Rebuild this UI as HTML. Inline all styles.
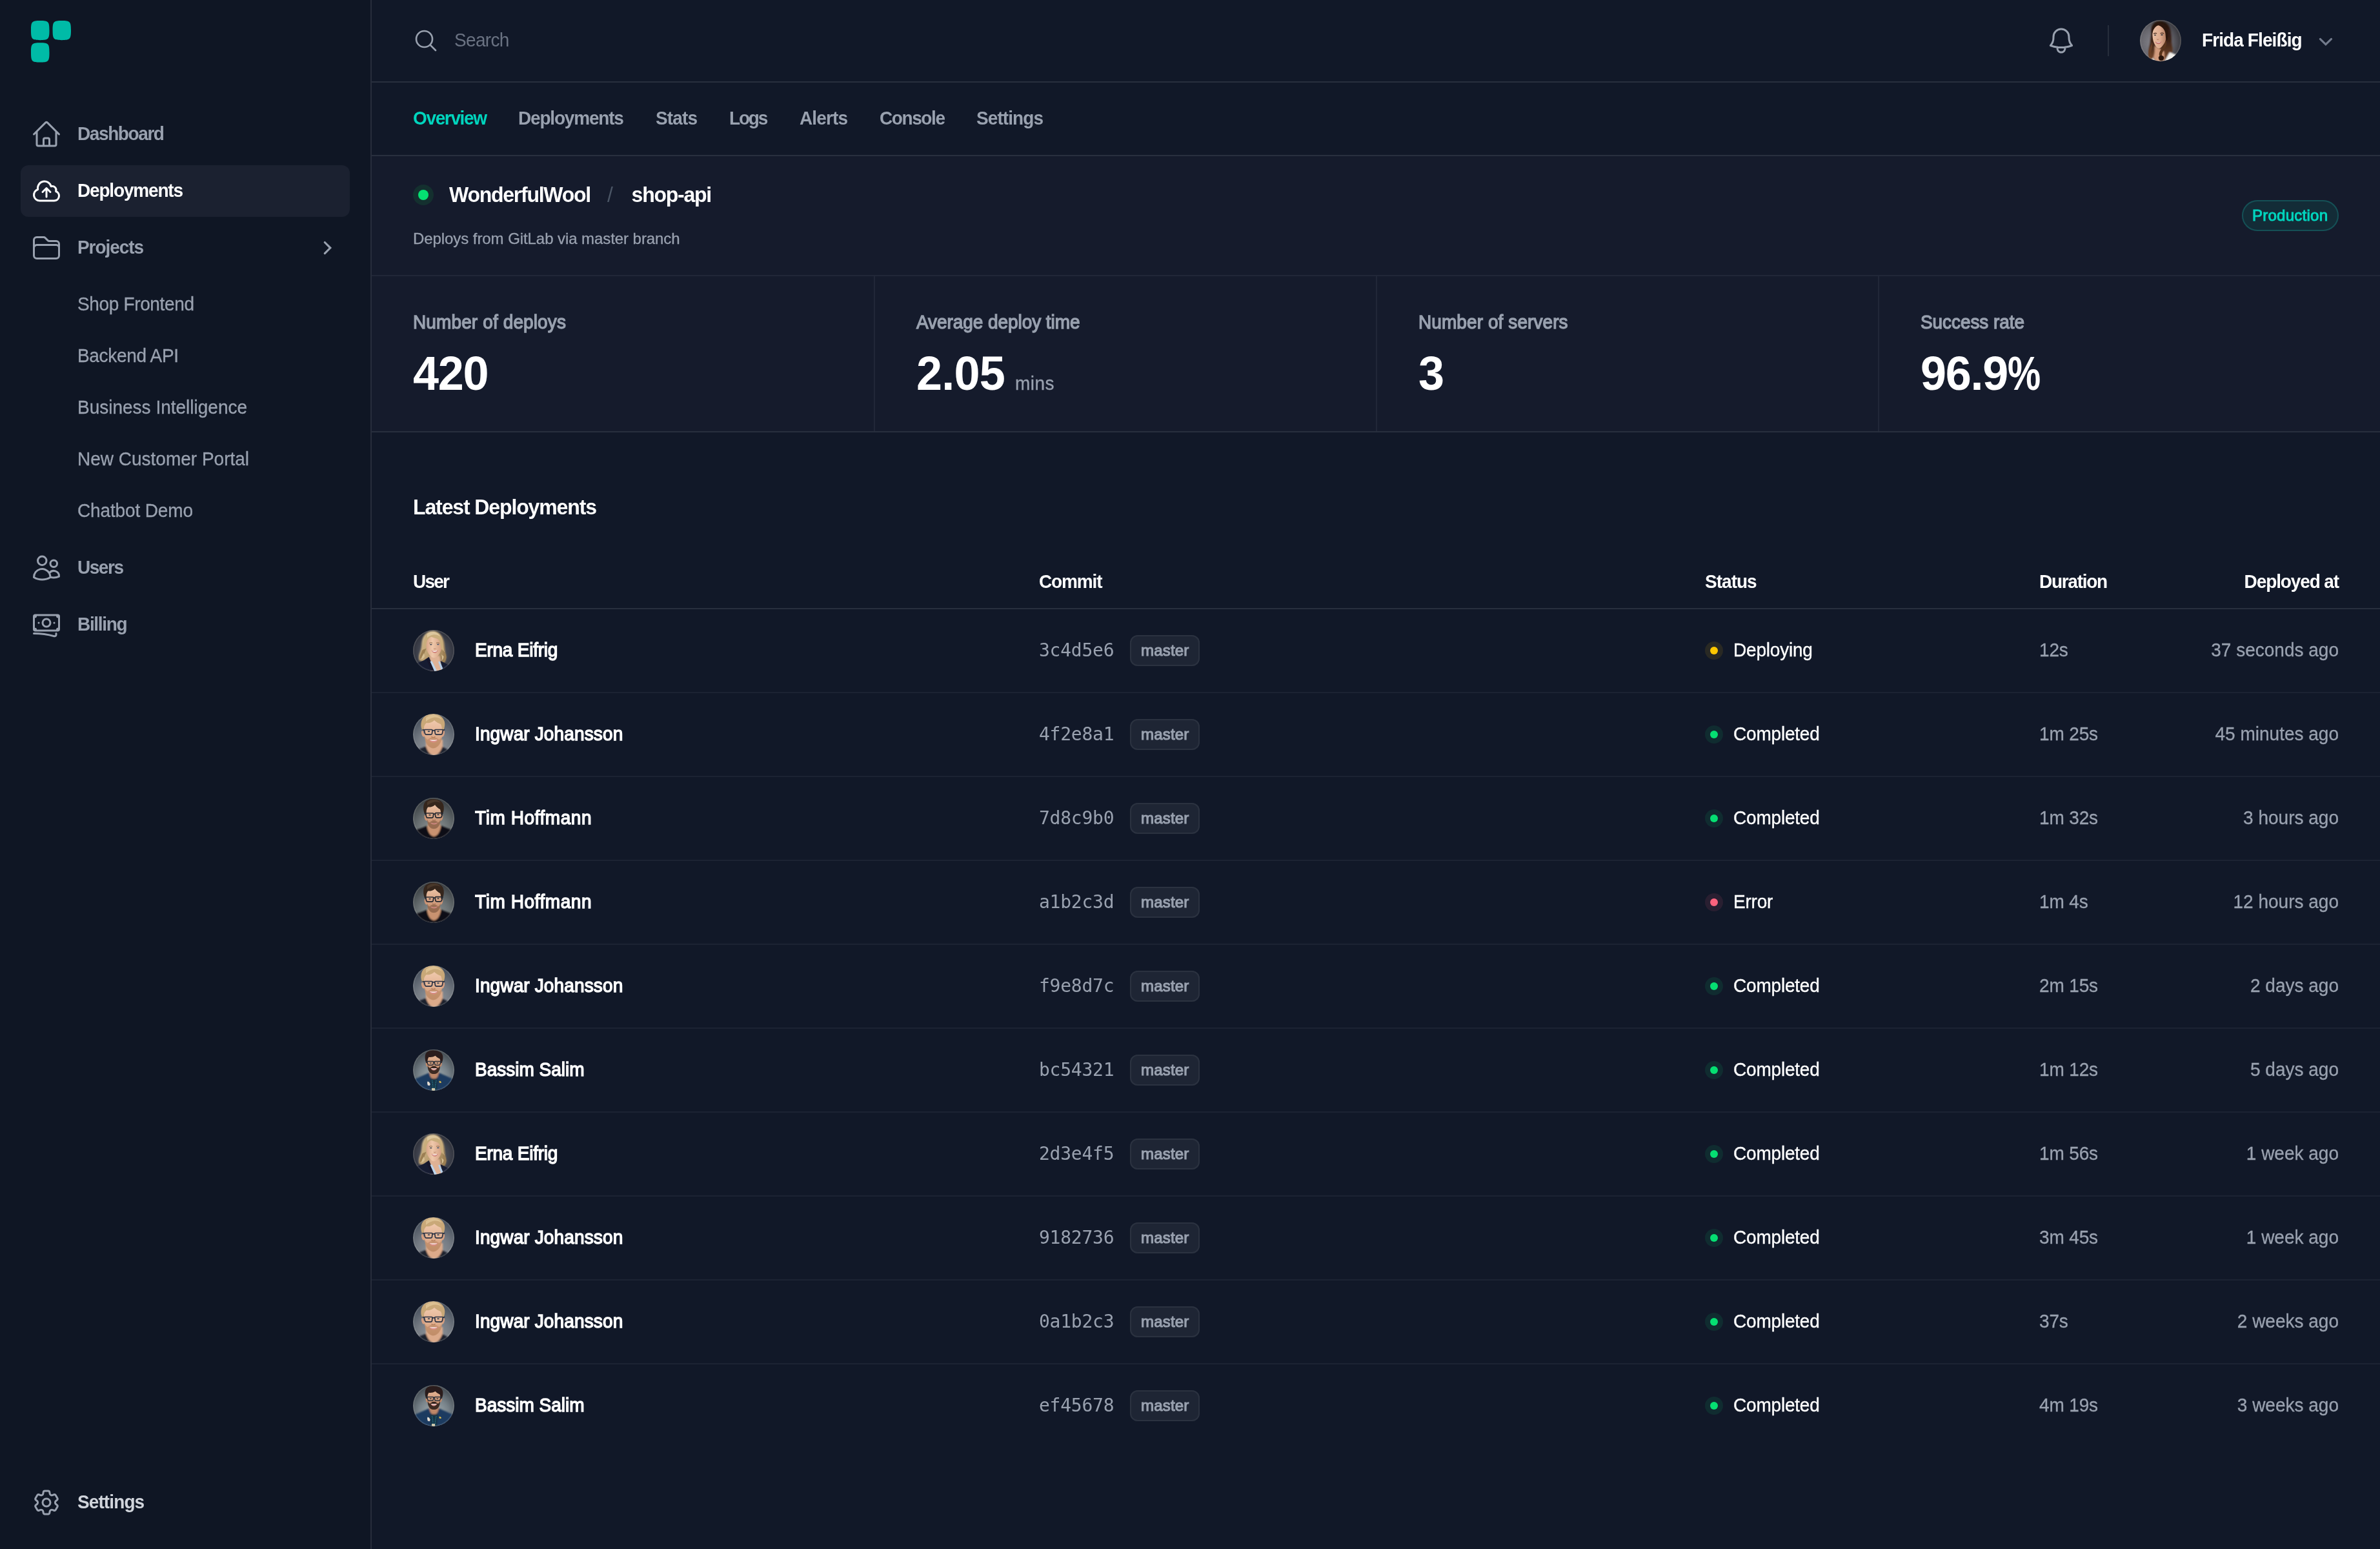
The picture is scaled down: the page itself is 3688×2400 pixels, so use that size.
<!DOCTYPE html>
<html lang="en">
<head>
<meta charset="utf-8">
<title>shop-api – Deployments</title>
<style>
*{box-sizing:border-box;margin:0;padding:0}
html,body{width:3688px;height:2400px;overflow:hidden;background:#111828}
body{font-family:"Liberation Sans",sans-serif;color:#fff;position:relative;-webkit-font-smoothing:antialiased}
svg{display:block}
.ico{fill:none;stroke:currentColor;stroke-width:1.5;stroke-linecap:round;stroke-linejoin:round}

/* ---------- sidebar ---------- */
#side{position:absolute;left:0;top:0;width:576px;height:2400px;background:#0f1624;border-right:2px solid #272d3c}
#logo{position:absolute;left:48px;top:31.6px}
.nav{position:absolute;left:32px;width:510px;height:80px;border-radius:12px;color:#99a1af;font-weight:700;font-size:28px;line-height:48px}
.nav svg.ico{position:absolute;left:16px;top:16px;width:48px;height:48px}
.nav span{position:absolute;left:88px;top:16px;white-space:nowrap;letter-spacing:-1.25px}
.nav.on{background:#1b2130;color:#fff}
.nav.set span{color:#d1d5dc}
.sub{position:absolute;left:120px;height:48px;line-height:48px;font-size:28px;color:#99a1af;white-space:nowrap;letter-spacing:-.15px;-webkit-text-stroke:.3px #99a1af}

/* ---------- main ---------- */
#main{position:absolute;left:576px;top:0;width:3112px;height:2400px;background:#111828}
#top{position:absolute;left:0;top:0;width:3112px;height:128px;border-bottom:2px solid #282f3e}
#tabs{position:absolute;left:0;top:128px;width:3112px;height:114px;border-bottom:2px solid #282f3e}
.tab{position:absolute;top:32px;line-height:48px;font-size:28px;font-weight:700;color:#99a1af;white-space:nowrap;letter-spacing:-1.2px}
#head{position:absolute;left:0;top:242px;width:3112px;height:184px;background:#151b2c}
#stats{position:absolute;left:0;top:426px;width:3112px;height:242px;background:#151b2c;border-top:2px solid #212738}
.stat{position:absolute;top:-2px;height:242px;width:778px;border-top:2px solid #212738}
.stat+.stat{border-left:2px solid #212738}
.stat .l{position:absolute;left:64px;top:48px;line-height:48px;font-size:28px;color:#99a1af;white-space:nowrap;letter-spacing:-.1px;-webkit-text-stroke:1.25px #99a1af}
.stat .v{position:absolute;left:64px;top:111px;line-height:80px;font-size:72px;font-weight:700;color:#fff;white-space:nowrap;letter-spacing:-1.3px}
#tbl{position:absolute;left:0;top:668px;width:3112px;border-top:2px solid #282f3e}
.row{position:absolute;left:0;width:3112px;height:130px;border-bottom:2px solid #1c2333}
.row>*{position:absolute;white-space:nowrap}

#q{position:absolute;left:128px;top:39px;line-height:48px;font-size:28px;color:#6a7282;letter-spacing:-.66px}
#vsep{position:absolute;left:2690px;top:39px;width:2px;height:48px;background:#272e3c}
.av{position:absolute;width:64px;height:64px;border-radius:50%;overflow:hidden;background:#555}
#me{left:2740px;top:31px}
#uname{position:absolute;left:2836px;top:39px;line-height:48px;font-size:28px;font-weight:700;color:#fff;white-space:nowrap;letter-spacing:-.9px}
#hdot{position:absolute;left:64px;top:44px;width:32px;height:32px;border-radius:50%;background:#14302f}
#hdot i{position:absolute;left:8px;top:8px;width:16px;height:16px;border-radius:50%;background:#05df72}
#ttl{position:absolute;left:120px;top:32px;line-height:56px;font-size:32px;font-weight:700;color:#fff;white-space:nowrap;letter-spacing:-1.25px}
#ttl .sl{color:#4a5565;font-weight:400;margin:0 30px 0 26px}
#sub{position:absolute;left:64px;top:104px;line-height:48px;font-size:24px;color:#99a1af;white-space:nowrap;letter-spacing:-.07px;-webkit-text-stroke:.3px #99a1af}
#prod{position:absolute;left:2898px;top:68px;width:150px;height:48px;border-radius:24px;background:#132c37;box-shadow:inset 0 0 0 2px #155056;color:#00d5be;font-size:24px;line-height:48px;text-align:center;letter-spacing:.25px;-webkit-text-stroke:1px #00d5be}
.stat .u{font-size:28px;font-weight:400;color:#99a1af;margin-left:16px;letter-spacing:.5px;-webkit-text-stroke:.3px #99a1af}

#lt{position:absolute;left:64px;top:88px;line-height:56px;font-size:32px;font-weight:700;color:#fff;white-space:nowrap;letter-spacing:-1.12px}
#thead{position:absolute;left:0;top:192px;width:3112px;height:82px;border-bottom:2px solid #282f3e}
.th{position:absolute;top:16px;line-height:48px;font-size:28px;font-weight:700;color:#fff;white-space:nowrap;letter-spacing:-1.15px}
.row.last{border-bottom:0}
.row .av{left:64px;top:32px}
.nm{left:160px;top:40px;line-height:48px;font-size:28px;color:#fff;letter-spacing:.1px;-webkit-text-stroke:1.3px #fff}
.cm{left:1034px;top:40px;line-height:48px;font-size:28px;color:#99a1af;font-family:"DejaVu Sans Mono","Liberation Mono",monospace;letter-spacing:-.25px}
.br{left:1175px;top:40px;width:108px;height:48px;border-radius:12px;background:#1e2534;box-shadow:inset 0 0 0 2px #2b3240;color:#99a1af;font-size:24px;line-height:48px;text-align:center;letter-spacing:.2px;-webkit-text-stroke:1.1px #99a1af}
.dt{left:2066px;top:50px;width:28px;height:28px;border-radius:50%}
.dt i{position:absolute;left:8px;top:8px;width:12px;height:12px;border-radius:50%}
.dt.g{background:#102c30}.dt.g i{background:#05df72}
.dt.y{background:#292924}.dt.y i{background:#fdc700}
.dt.r{background:#291f31}.dt.r i{background:#ff637e}
.st{left:2110px;top:40px;line-height:48px;font-size:28px;color:#fff;letter-spacing:-.2px;-webkit-text-stroke:.35px #fff}
.du{left:2584px;top:40px;line-height:48px;font-size:28px;color:#99a1af;letter-spacing:-.15px;-webkit-text-stroke:.3px #99a1af}
.ago{right:64px;top:40px;line-height:48px;font-size:28px;color:#99a1af;letter-spacing:0;-webkit-text-stroke:.3px #99a1af}
.stat .pc{display:inline-block;transform:scaleX(.8);transform-origin:0 50%;margin-left:0}

/* target typeface is ~5% taller than Liberation at equal width: stretch vertically about the baseline */
.nav span,.sub,.tab,#q,#uname,.stat .l,.th,.nm,.st,.du,.ago{transform:scaleY(1.05);transform-origin:0 33.7px}
#ttl,#lt{transform:scaleY(1.05);transform-origin:0 39.1px}
#sub,#prod span,.br span{transform:translateY(-.4px)}
.cm,#sub,#prod span,.br span,.stat .u,#ttl .sl{will-change:transform}
#prod span,.br span{display:inline-block}
.stat .v{transform:scaleY(1.04);transform-origin:0 64.9px}
/* fallback: if rendered in a 1844x1200 @2x viewport, halve the layout so device pixels are identical */
@media (max-width:2000px){html{zoom:.5}}
</style>
</head>
<body>
<svg width="0" height="0" style="position:absolute"><defs><clipPath id="cc"><circle cx="32" cy="32" r="32"/></clipPath><filter id="b1" x="-20%" y="-20%" width="140%" height="140%"><feGaussianBlur stdDeviation="0.8"/></filter><filter id="b2" x="-20%" y="-20%" width="140%" height="140%"><feGaussianBlur stdDeviation="0.42"/></filter><filter id="b4" x="-10%" y="-30%" width="120%" height="160%"><feGaussianBlur stdDeviation="0.25"/></filter><filter id="b3" x="-30%" y="-30%" width="160%" height="160%"><feGaussianBlur stdDeviation="2"/></filter><radialGradient id="gF" cx=".38" cy=".55" r=".62"><stop offset="0" stop-color="#8b8a91"/><stop offset=".6" stop-color="#67666d"/><stop offset="1" stop-color="#37373d"/></radialGradient><radialGradient id="gE" cx=".5" cy=".55" r=".6"><stop offset="0" stop-color="#565b69"/><stop offset=".6" stop-color="#41444f"/><stop offset="1" stop-color="#272932"/></radialGradient><radialGradient id="gI" cx=".5" cy=".85" r=".85"><stop offset="0" stop-color="#969ba1"/><stop offset=".5" stop-color="#757b83"/><stop offset="1" stop-color="#414a57"/></radialGradient><radialGradient id="gT" cx=".5" cy=".8" r=".8"><stop offset="0" stop-color="#939a9b"/><stop offset=".5" stop-color="#6a7173"/><stop offset="1" stop-color="#34393d"/></radialGradient><radialGradient id="gB" cx=".5" cy=".68" r=".72"><stop offset="0" stop-color="#a9b3b5"/><stop offset=".5" stop-color="#78838a"/><stop offset="1" stop-color="#363d44"/></radialGradient><linearGradient id="sk1" x1="0" y1="0" x2="1" y2="0"><stop offset="0" stop-color="#e9bea3"/><stop offset=".55" stop-color="#dca98d"/><stop offset="1" stop-color="#a9745a"/></linearGradient><linearGradient id="sk2" x1="0" y1="0" x2="1" y2="0"><stop offset="0" stop-color="#d9a688"/><stop offset=".4" stop-color="#efc8ab"/><stop offset="1" stop-color="#d49f82"/></linearGradient><linearGradient id="sk3" x1="0" y1="0" x2="0" y2="1"><stop offset="0" stop-color="#f0cbb0"/><stop offset=".55" stop-color="#e2b191"/><stop offset="1" stop-color="#c98f6c"/></linearGradient><linearGradient id="sk4" x1="0" y1="0" x2="0" y2="1"><stop offset="0" stop-color="#ecc3a6"/><stop offset=".5" stop-color="#d9a585"/><stop offset="1" stop-color="#b07a5c"/></linearGradient><linearGradient id="sk5" x1="0" y1="0" x2="0" y2="1"><stop offset="0" stop-color="#e6b797"/><stop offset=".5" stop-color="#d19c7c"/><stop offset="1" stop-color="#a87053"/></linearGradient><linearGradient id="hF" x1="0" y1="0" x2="0" y2="1"><stop offset="0" stop-color="#24130d"/><stop offset=".45" stop-color="#3a2117"/><stop offset="1" stop-color="#7a4a2c"/></linearGradient><linearGradient id="hE" x1="0" y1="0" x2="1" y2="1"><stop offset="0" stop-color="#d6c29a"/><stop offset=".5" stop-color="#bfa375"/><stop offset="1" stop-color="#8f744b"/></linearGradient></defs></svg>
<div id="side">
  <svg id="logo" width="62" height="65" viewBox="0 0 62 65"><path fill="#00bba7" d="M0 15.1C0 1.51 1.42 0 14.25 0S28.5 1.51 28.5 15.1S27.08 30.2 14.25 30.2S0 28.69 0 15.1ZM33.6 15.1C33.6 1.51 35.02 0 47.8 0S62 1.51 62 15.1S60.58 30.2 47.8 30.2S33.6 28.69 33.6 15.1ZM0 49.4C0 35.81 1.42 34.3 14.25 34.3S28.5 35.81 28.5 49.4S27.08 64.5 14.25 64.5S0 62.99 0 49.4Z"/></svg>
  <div class="nav" style="top:168px"><svg class="ico" viewBox="0 0 24 24"><path d="m2.25 12 8.954-8.955c.44-.439 1.152-.439 1.591 0L21.75 12M4.5 9.75v10.125c0 .621.504 1.125 1.125 1.125H9.75v-4.875c0-.621.504-1.125 1.125-1.125h2.25c.621 0 1.125.504 1.125 1.125V21h4.125c.621 0 1.125-.504 1.125-1.125V9.75M8.25 21h8.25"/></svg><span style="letter-spacing:-1.41px">Dashboard</span></div>
  <div class="nav on" style="top:256px"><svg class="ico" viewBox="0 0 24 24"><path d="M12 16.5V9.75m0 0 3 3m-3-3-3 3M6.75 19.5a4.5 4.5 0 0 1-1.41-8.775 5.25 5.25 0 0 1 10.233-2.33 3 3 0 0 1 3.758 3.848A3.752 3.752 0 0 1 18 19.5H6.75Z"/></svg><span style="letter-spacing:-1.18px">Deployments</span></div>
  <div class="nav" style="top:344px"><svg class="ico" viewBox="0 0 24 24"><path d="M2.25 12.75V12A2.25 2.25 0 0 1 4.5 9.75h15A2.25 2.25 0 0 1 21.75 12v.75m-8.69-6.44-2.12-2.12a1.5 1.5 0 0 0-1.061-.44H4.5A2.25 2.25 0 0 0 2.25 6v12a2.25 2.25 0 0 0 2.25 2.25h15A2.25 2.25 0 0 0 21.75 18V9a2.25 2.25 0 0 0-2.25-2.25h-5.379a1.5 1.5 0 0 1-1.06-.44Z"/></svg><span style="letter-spacing:-1.07px">Projects</span><svg class="chev" width="40" height="40" viewBox="0 0 20 20" style="position:absolute;left:454px;top:20px"><path d="M8.65 5.75 12.93 10.03 8.65 14.3" fill="none" stroke="#99a1af" stroke-width="1.55" stroke-linecap="round" stroke-linejoin="miter"/></svg></div>
  <div class="sub" style="top:448px;letter-spacing:-.35px">Shop Frontend</div>
  <div class="sub" style="top:528px;letter-spacing:-.33px">Backend API</div>
  <div class="sub" style="top:608px;letter-spacing:0px">Business Intelligence</div>
  <div class="sub" style="top:688px;letter-spacing:0px">New Customer Portal</div>
  <div class="sub" style="top:768px;letter-spacing:-.14px">Chatbot Demo</div>
  <div class="nav" style="top:840px"><svg class="ico" viewBox="0 0 24 24"><path d="M15 19.128a9.38 9.38 0 0 0 2.625.372 9.337 9.337 0 0 0 4.121-.952 4.125 4.125 0 0 0-7.533-2.493M15 19.128v-.003c0-1.113-.285-2.16-.786-3.07M15 19.128v.106A12.318 12.318 0 0 1 8.624 21c-2.331 0-4.512-.645-6.374-1.766l-.001-.109a6.375 6.375 0 0 1 11.964-3.07M12 6.375a3.375 3.375 0 1 1-6.75 0 3.375 3.375 0 0 1 6.75 0Zm8.25 2.25a2.625 2.625 0 1 1-5.25 0 2.625 2.625 0 0 1 5.25 0Z"/></svg><span style="letter-spacing:-1.46px">Users</span></div>
  <div class="nav" style="top:928px"><svg class="ico" viewBox="0 0 24 24"><path d="M2.25 18.75a60.07 60.07 0 0 1 15.797 2.101c.727.198 1.453-.342 1.453-1.096V18.75M3.75 4.5v.75A.75.75 0 0 1 3 6h-.75m0 0v-.375c0-.621.504-1.125 1.125-1.125H20.25M2.25 6v9m18-10.5v.75c0 .414.336.75.75.75h.75m-1.5-1.5h.375c.621 0 1.125.504 1.125 1.125v9.75c0 .621-.504 1.125-1.125 1.125h-.375m1.5-1.5H21a.75.75 0 0 0-.75.75v.75m0 0H3.75m0 0h-.375a1.125 1.125 0 0 1-1.125-1.125V15m1.5 1.5v-.75A.75.75 0 0 0 3 15h-.75M15 10.5a3 3 0 1 1-6 0 3 3 0 0 1 6 0Zm3 0h.008v.008H18V10.5Zm-12 0h.008v.008H6V10.5Z"/></svg><span style="letter-spacing:-1.33px">Billing</span></div>
  <div class="nav set" style="top:2288px"><svg class="ico" viewBox="0 0 24 24"><path d="M9.594 3.94c.09-.542.56-.94 1.11-.94h2.593c.55 0 1.02.398 1.11.94l.213 1.281c.063.374.313.686.645.87.074.04.147.083.22.127.325.196.72.257 1.075.124l1.217-.456a1.125 1.125 0 0 1 1.37.49l1.296 2.247a1.125 1.125 0 0 1-.26 1.431l-1.003.827c-.293.241-.438.613-.43.992a7.723 7.723 0 0 1 0 .255c-.008.378.137.75.43.991l1.004.827c.424.35.534.955.26 1.43l-1.298 2.247a1.125 1.125 0 0 1-1.369.491l-1.217-.456c-.355-.133-.75-.072-1.076.124a6.47 6.47 0 0 1-.22.128c-.331.183-.581.495-.644.869l-.213 1.281c-.09.543-.56.94-1.11.94h-2.594c-.55 0-1.019-.398-1.11-.94l-.213-1.281c-.062-.374-.312-.686-.644-.87a6.52 6.52 0 0 1-.22-.127c-.325-.196-.72-.257-1.076-.124l-1.217.456a1.125 1.125 0 0 1-1.369-.49l-1.297-2.247a1.125 1.125 0 0 1 .26-1.431l1.004-.827c.292-.24.437-.613.43-.991a6.932 6.932 0 0 1 0-.255c.007-.38-.138-.751-.43-.992l-1.004-.827a1.125 1.125 0 0 1-.26-1.43l1.297-2.247a1.125 1.125 0 0 1 1.37-.491l1.216.456c.356.133.751.072 1.076-.124.072-.044.146-.086.22-.128.332-.183.582-.495.644-.869l.214-1.28Z"/><path d="M15 12a3 3 0 1 1-6 0 3 3 0 0 1 6 0Z"/></svg><span style="letter-spacing:-0.90px">Settings</span></div>
</div>
<div id="main">
  <div id="top">
    <svg class="ico" viewBox="0 0 24 24" style="position:absolute;left:64px;top:43px;width:40px;height:40px;color:#99a1af;stroke-width:1.6"><path d="m21 21-5.197-5.197m0 0A7.5 7.5 0 1 0 5.196 5.196a7.5 7.5 0 0 0 10.607 10.607Z"/></svg>
    <div id="q">Search</div>
    <svg class="ico" viewBox="0 0 24 24" style="position:absolute;left:2594px;top:39px;width:48px;height:48px;color:#99a1af"><path d="M14.857 17.082a23.848 23.848 0 0 0 5.454-1.31A8.967 8.967 0 0 1 18 9.75V9A6 6 0 0 0 6 9v.75a8.967 8.967 0 0 1-2.312 6.022c1.733.64 3.56 1.085 5.455 1.31m5.714 0a24.255 24.255 0 0 1-5.714 0m5.714 0a3 3 0 1 1-5.714 0"/></svg>
    <div id="vsep"></div>
    <div id="me" class="av"><svg width="64" height="64" viewBox="0 0 64 64"><g clip-path="url(#cc)"><rect width="64" height="64" fill="url(#gF)"/><g filter="url(#b1)"><path d="M31 1.5C22 1.5 17 8 17.5 17c.3 6-1 10-1.5 16-.5 7-3 11-2.500 16 .4 4 1 9 3 15H44c3-4 6-9 6.500-16 .5-6-1.500-9-1.500-15 0-5-.5-10-1.200-15C46.500 8 41 1.500 31 1.500Z" fill="url(#hF)"/><path d="M46 50 56 53.500 50 66H37Z" fill="#f1efec"/><path d="M20 58l5 8h-8z" fill="#e9e6e2"/><path d="M23 40c0 6 0 12-2 18l6 8h9c2-5 2-11 1.500-17Z" fill="#d29b7d"/></g><g filter="url(#b2)"><path d="M19.300 20.500c0-7.500 4.700-12.500 11.200-12.500s11.500 5 11.500 12.500c0 5-1 10-3.500 14.500-2.200 4-6 9-9 9s-6-4.300-7.700-8.500C20 31.500 19.300 25.500 19.300 20.500Z" fill="url(#sk1)"/><path d="M28 4.500c-5 1-10 6-10 14l.800 5c1-7 3.200-12.500 9.200-15.500 5.500 1.500 10.500 6 11.500 13 .500 4 .500 8 1 12l2.500-3c1-5 1-12-.500-17C40.500 7.500 34 3.500 28 4.500Z" fill="#2a160e"/><path d="M40 30c2 6 1 11-2 15s-5 9-3 14l-4-1c-3-6 0-10 3-14s5-8 6-14Z" fill="#5a341f"/><path d="M15 44c2-3 3-6 4-10 .500 5 0 9-1.500 13s-1 8 1 12l-4 1c-2-6-1.500-12 .500-16Z" fill="#6b4027"/><path d="M30 56c2-1.500 5-1.500 6.500.5s.5 5.500-2 6.500-5-.5-5.500-3 .0-3 1-4Z" fill="#2a160e"/></g><g filter="url(#b2)"><path d="M21 21.300c1.500-1 3.500-1.200 5.200-.5M31.500 20.800c1.800-.9 4-.8 5.700.3" stroke="#4a2e20" stroke-width="1.100" fill="none"/><ellipse cx="23.500" cy="23.300" rx="1.700" ry=".9" fill="#3d3a3c"/><ellipse cx="34" cy="23" rx="1.800" ry=".9" fill="#3d3a3c"/><path d="M26 29.500c.8 1 2.400 1.100 3.300.2" stroke="#a86f55" stroke-width="1" fill="none"/><path d="M23.800 33.600c2.800 1.200 6.800 1 9.700-.7-.8 3-2.800 4.300-5.300 4.300s-3.800-1.500-4.400-3.600Z" fill="#c26c66"/><path d="M24.800 34c2.500.8 5.500.6 7.700-.5-.7 1.300-2.200 1.900-4 1.900s-3.200-.5-3.700-1.400Z" fill="#f4ebe6"/></g><circle cx="32" cy="32" r="31.1" fill="none" stroke="#fff" stroke-opacity=".13" stroke-width="1.6"/></g></svg></div>
    <div id="uname">Frida Fleißig</div>
    <svg width="40" height="40" viewBox="0 0 20 20" style="position:absolute;left:3008px;top:43px"><path d="M5.63 8.73 9.95 12.9 14.28 8.73" fill="none" stroke="#737b8c" stroke-width="1.55" stroke-linecap="round" stroke-linejoin="miter"/></svg>
  </div>
  <div id="tabs">
    <div class="tab" style="left:64px;color:#00d5be;letter-spacing:-1.36px">Overview</div>
    <div class="tab" style="left:227px;letter-spacing:-1.19px">Deployments</div>
    <div class="tab" style="left:440px;letter-spacing:-0.87px">Stats</div>
    <div class="tab" style="left:554px;letter-spacing:-2.2px">Logs</div>
    <div class="tab" style="left:663px;letter-spacing:-0.87px">Alerts</div>
    <div class="tab" style="left:787px;letter-spacing:-1.41px">Console</div>
    <div class="tab" style="left:937px;letter-spacing:-0.92px">Settings</div>
  </div>
  <div id="head">
    <div id="hdot"><i></i></div>
    <div id="ttl"><span>WonderfulWool</span><span class="sl">/</span><span>shop-api</span></div>
    <div id="sub">Deploys from GitLab via master branch</div>
    <div id="prod"><span>Production</span></div>
  </div>
  <div id="stats">
    <div class="stat" style="left:0"><div class="l" style="letter-spacing:0.12px">Number of deploys</div><div class="v">420</div></div>
    <div class="stat" style="left:778px"><div class="l" style="letter-spacing:-0.07px">Average deploy time</div><div class="v" style="letter-spacing:-.8px">2.05<span class="u">mins</span></div></div>
    <div class="stat" style="left:1556px"><div class="l" style="letter-spacing:0.08px">Number of servers</div><div class="v">3</div></div>
    <div class="stat" style="left:2334px"><div class="l" style="letter-spacing:-0.08px">Success rate</div><div class="v">96.9<span class="pc">%</span></div></div>
  </div>
  <div id="tbl">
    <h2 id="lt">Latest Deployments</h2>
    <div id="thead"><div class="th" style="left:64px;letter-spacing:-1.76px">User</div><div class="th" style="left:1034px;letter-spacing:-1.13px">Commit</div><div class="th" style="left:2066px;letter-spacing:-0.98px">Status</div><div class="th" style="left:2584px;letter-spacing:-1.29px">Duration</div><div class="th" style="right:64px;letter-spacing:-1.12px">Deployed at</div></div>
    <div class="row" style="top:274px"><div class="av"><svg width="64" height="64" viewBox="0 0 64 64"><g clip-path="url(#cc)"><rect width="64" height="64" fill="url(#gE)"/><g filter="url(#b1)"><path d="M30 1.500c-9 .500-15.500 8-16.500 18-.500 6-1 10-2.500 14s-3 9-1.500 13.500l6 2.500 10-7 16 1 4 9 4-2.500c2-4 2.500-8 1.500-12s-1.500-8-2-13C48 11 41 1 30 1.500Z" fill="url(#hE)"/><path d="M26 40h15l3 12 2 14H24Z" fill="#dfb295"/></g><g filter="url(#b2)"><path d="M20.500 24c0-8.500 4.800-14 12-14S44.500 15.500 44.500 24c0 5.500-1.500 10-4 13.500-2.200 3-5.200 5.700-8 5.700s-5.800-2.700-8-6C22 33.500 20.500 29 20.500 24Z" fill="url(#sk2)"/><path d="M31 3c-7 0-13 6-14 15-.500 5-1 9-3 13 3-1 5-4 6-8 .800-5 3-10 8-12.500 4 2 9 2 12 5 2 3 2.500 7 3 11 1 4 3 7 6 8-2-5-2-9-2.500-14C45.500 9 39 3 31 3Z" fill="#c9ad7c"/><path d="M22 6c3-2.500 7-3.500 10-3 4 .500 8 3 10 7-4-2.500-8-3-11-2.500S25 9.500 22 12Z" fill="#dcc79e"/><path d="M14 32c-1.500 5-4 8-3.500 13 2.500-1 5.500-3.500 6.500-7s2.500-6 3.500-9.500C18 30 15.500 30 14 32ZM45.500 30c.500 5 2 8 2 12s-2.500 7-1.500 10c3-2 5.500-6 5.500-10s-3-8-6-12Z" fill="#9c7f52"/><path d="M17 36c-2 3-4 6-4 9.500 2-.500 4-2 5-4.500ZM44 38c1 3 1.500 6 .500 9 2-1 3-3.500 3-6Z" fill="#d6bf92"/><path d="M-2 58c3-4 7-6.500 12-8l7-3 7.500-5L36.500 66H-2Z" fill="#191c31"/><path d="M42.500 48l5.500 2.500 7 4 6 5.500v6H47Z" fill="#191c31"/><path d="M26.300 48.700 29.400 48.200 37.600 64.500 33.800 66Z" fill="#bcd5ec"/><path d="M39 49l2.600-.300L46.300 59.500 43.600 62Z" fill="#b4cde6"/><path d="M24.500 42 26.300 48.700 34 66H30L21 46Z" fill="#14172a"/></g><g filter="url(#b2)"><path d="M25 20.600c1.500-.900 3.500-1 5.200-.300M36 20.300c1.700-.700 3.700-.600 5.200.300" stroke="#8a6a48" stroke-width="1" fill="none"/><ellipse cx="27.800" cy="22.600" rx="1.800" ry=".95" fill="#454a55"/><ellipse cx="38.800" cy="22.400" rx="1.800" ry=".95" fill="#4d5a6d"/><path d="M32 28.800c.900.900 2.600.900 3.500 0" stroke="#b27d62" stroke-width="1" fill="none"/><path d="M28.600 31.500c3 1.100 7 1.100 10-.100-.800 3-2.800 4.400-5 4.400s-4.200-1.500-5-4.300Z" fill="#cf7f79"/><path d="M29.600 31.900c2.600.800 5.600.800 8-.100-.600 1.500-2.100 2.200-4 2.200s-3.300-.700-4-2.100Z" fill="#fbf4f0"/></g><circle cx="32" cy="32" r="31.1" fill="none" stroke="#fff" stroke-opacity=".13" stroke-width="1.6"/></g></svg></div><div class="nm" style="letter-spacing:-.24px">Erna Eifrig</div><div class="cm">3c4d5e6</div><div class="br"><span>master</span></div><div class="dt y"><i></i></div><div class="st">Deploying</div><div class="du">12s</div><div class="ago">37 seconds ago</div></div>
    <div class="row" style="top:404px"><div class="av"><svg width="64" height="64" viewBox="0 0 64 64"><g clip-path="url(#cc)"><rect width="64" height="64" fill="url(#gI)"/><g filter="url(#b1)"><path d="M20 40h26v26H20Z" fill="#dcaa8a"/><path d="M-2 60 11 54l9-3.500C22 58 27 64.500 32.500 64.500S43.500 58 45.500 51l6.500 3.500 14 5.500v8H-2Z" fill="#1d212d"/></g><g filter="url(#b2)"><path d="M15 26c-1.500-.5-2.300 1-2 3.500s1.500 5.500 3 6 2-.5 2-2ZM47 26c1.500-.5 2.300 1 2 3.500s-1.500 5.500-3 6-2-.5-2-2Z" fill="#d69f80"/><path d="M16.500 22c0-9.500 6-15 15-15s15 5.500 15 15c0 6-.5 12-2.500 17.500-2 6-7 13.500-12.500 13.500S21 45.500 19 39.500C17 34 16.500 28 16.500 22Z" fill="url(#sk3)"/><path d="M18.500 34c1 4 2.500 5.500 4.500 6 2-2.500 5-3.500 8.500-3.500s6.500 1 8.500 3.500c2-.5 3.500-2 4.500-6 0 6-1 10-3.500 13.500S35 53.500 31.500 53.500 24 51 21.500 47.500 18.500 40 18.500 34Z" fill="#bd8c66" opacity=".7"/><path d="M31 0c-8-.5-16 4-18 12-1 4-1 9 1 13l2.500 1c0-5 1-9.500 4.500-12 4 1 9-1 12-4 3 3 7 5 10 6 1.500 3 2 6.500 2 10l2.500-1c2-5 2.500-11 .5-15C45 3 39 .5 31 0Z" fill="#c9a878"/><path d="M20 6c4-4 10-5 15-4 4 1 8 3 10 7-4-3-8-4-12-3.500S24 8 20 12Z" fill="#dcc092"/></g><g filter="url(#b2)"><ellipse cx="24.500" cy="27.300" rx="1.800" ry="1" fill="#3c4454"/><ellipse cx="39" cy="27.300" rx="1.800" ry="1" fill="#3c4454"/><path d="M28.500 35.500c1.500 1 4.500 1 6 0" stroke="#a8704f" stroke-width="1.200" fill="none"/><path d="M25 39.600c4 1 9.500 1 13.500 0-1 3.300-3.500 4.900-6.700 4.900s-5.800-1.600-6.800-4.900Z" fill="#d98d85"/><path d="M26.200 40c3.500.7 7.500.7 11 0-.8 1.400-2.800 2.100-5.500 2.100s-4.700-.7-5.500-2.100Z" fill="#f7eeea"/></g><g fill="none" stroke="#2a3143" stroke-width="1.700" stroke-linejoin="round"><path d="M18.200 24.500h10.600c.9 0 1.300.5 1.200 1.400l-.5 4.300c-.2 1.300-1 2-2.300 2h-6.400c-1.300 0-2.100-.7-2.400-2l-.9-4.300c-.2-.9.100-1.400.7-1.400Z"/><path d="M45.600 24.500H35c-.9 0-1.300.5-1.200 1.400l.5 4.300c.2 1.300 1 2 2.300 2H43c1.300 0 2.100-.7 2.400-2l.9-4.300c.2-.9-.1-1.400-.7-1.400Z"/><path d="M30 26.200c1.200-.6 2.600-.6 3.800 0M17.800 25.300l-3.300-.8M46 25.300l3.300-.8"/></g><circle cx="32" cy="32" r="31.1" fill="none" stroke="#fff" stroke-opacity=".13" stroke-width="1.6"/></g></svg></div><div class="nm" style="letter-spacing:.13px">Ingwar Johansson</div><div class="cm">4f2e8a1</div><div class="br"><span>master</span></div><div class="dt g"><i></i></div><div class="st">Completed</div><div class="du">1m 25s</div><div class="ago">45 minutes ago</div></div>
    <div class="row" style="top:534px"><div class="av"><svg width="64" height="64" viewBox="0 0 64 64"><g clip-path="url(#cc)"><rect width="64" height="64" fill="url(#gT)"/><g filter="url(#b1)"><path d="M23.500 40h18.500l1.500 8-2 10-9 4-9-4-2-10Z" fill="#c9926f"/><path d="M-2 57c2-5 6-7 11-8.500l8-3 4.500-2c1 8 4.500 16 11 16.500 6-.5 10-8.500 11-17l4 2 9 3.500c5 1.500 8 4 9.500 8.500v9H-2Z" fill="#0e1014"/></g><g filter="url(#b2)"><path d="M19.500 27c-1.500-.5-2.200.8-1.900 3s1.300 5 2.700 5.500 1.800-.5 1.800-2ZM44.500 27c1.500-.5 2.200.8 1.900 3s-1.300 5-2.700 5.500-1.800-.5-1.800-2Z" fill="#cc9474"/><path d="M20.500 24c0-9 4.500-14.500 11.800-14.500S44 15 44 24c0 5.500-.5 10-2.500 14.500s-5.500 9.500-9.300 9.500-7.200-5-9.200-9.500S20.500 29.500 20.500 24Z" fill="url(#sk4)"/><path d="M22 33c.8 3.500 2 5 3.800 5.500 1.700-2 3.800-2.700 6.500-2.700s4.800.7 6.500 2.700C40.500 38 41.700 36.500 42.500 33c0 5-1 8.500-3 11.500s-4.700 3.700-7.300 3.700-5.200-.7-7.200-3.700S22 38 22 33Z" fill="#8f654b" opacity=".8"/><path d="M30 2c-6-.5-12 3-13.500 9.500-.8 4-.5 9 1.500 13.500l2.500 2c-.5-5 0-9.500 2.500-12.500 3.500.5 8-.5 11-3.500 2 3 5 5.500 8 7 1 2.500 1.500 5.500 1.300 9l2.700-2c2-4.500 2.500-10 1-14.500C45 4.500 38 2 30 2Z" fill="#35261f"/><path d="M22 7c3-3.500 8-4.500 12-4 3.500.5 7 2 9 5-3-1.500-7-2-10-1.500S25.500 9 22 12Z" fill="#4a372c"/></g><g filter="url(#b2)"><ellipse cx="26" cy="26.800" rx="1.700" ry=".95" fill="#3a3d44"/><ellipse cx="39" cy="26.300" rx="1.700" ry=".95" fill="#3a3d44"/><path d="M29.800 34.500c1.300.9 4 .9 5.300 0" stroke="#9c6a4e" stroke-width="1.100" fill="none"/><path d="M26.800 38.600c3.500 1.100 8 1.100 11.500-.3-1 2.300-3.200 3.300-5.700 3.300s-4.800-1-5.800-3Z" fill="#c9857c"/></g><g fill="none" stroke="#23262e" stroke-width="1.700" stroke-linejoin="round"><path d="M20.300 24h10.200c.9 0 1.300.5 1.200 1.300l-.5 3.900c-.2 1.300-1 2-2.300 2H23c-1.300 0-2.100-.7-2.400-2l-.9-3.900c-.2-.8.100-1.300.6-1.300Z"/><path d="M44.500 23.600h-9c-.9 0-1.300.5-1.200 1.300l.5 3.900c.2 1.300 1 2 2.300 2h5.100c1.300 0 2.100-.7 2.400-2l.6-3.900c.1-.8-.2-1.300-.7-1.300Z"/><path d="M31.600 25.600c.9-.5 1.900-.5 2.800 0M20 24.700l-2.200-.5M45 24.300l1.700-.3"/></g><circle cx="32" cy="32" r="31.1" fill="none" stroke="#fff" stroke-opacity=".13" stroke-width="1.6"/></g></svg></div><div class="nm" style="letter-spacing:.57px">Tim Hoffmann</div><div class="cm">7d8c9b0</div><div class="br"><span>master</span></div><div class="dt g"><i></i></div><div class="st">Completed</div><div class="du">1m 32s</div><div class="ago">3 hours ago</div></div>
    <div class="row" style="top:664px"><div class="av"><svg width="64" height="64" viewBox="0 0 64 64"><g clip-path="url(#cc)"><rect width="64" height="64" fill="url(#gT)"/><g filter="url(#b1)"><path d="M23.500 40h18.500l1.500 8-2 10-9 4-9-4-2-10Z" fill="#c9926f"/><path d="M-2 57c2-5 6-7 11-8.500l8-3 4.500-2c1 8 4.500 16 11 16.500 6-.5 10-8.500 11-17l4 2 9 3.500c5 1.500 8 4 9.500 8.500v9H-2Z" fill="#0e1014"/></g><g filter="url(#b2)"><path d="M19.500 27c-1.500-.5-2.200.8-1.900 3s1.300 5 2.700 5.500 1.800-.5 1.800-2ZM44.500 27c1.500-.5 2.200.8 1.900 3s-1.300 5-2.700 5.500-1.800-.5-1.800-2Z" fill="#cc9474"/><path d="M20.500 24c0-9 4.500-14.500 11.800-14.500S44 15 44 24c0 5.500-.5 10-2.500 14.500s-5.500 9.500-9.300 9.500-7.200-5-9.200-9.500S20.500 29.500 20.500 24Z" fill="url(#sk4)"/><path d="M22 33c.8 3.500 2 5 3.800 5.500 1.700-2 3.800-2.700 6.500-2.700s4.800.7 6.500 2.700C40.500 38 41.700 36.500 42.500 33c0 5-1 8.500-3 11.500s-4.700 3.700-7.300 3.700-5.200-.7-7.200-3.700S22 38 22 33Z" fill="#8f654b" opacity=".8"/><path d="M30 2c-6-.5-12 3-13.500 9.500-.8 4-.5 9 1.500 13.500l2.500 2c-.5-5 0-9.500 2.500-12.500 3.500.5 8-.5 11-3.500 2 3 5 5.500 8 7 1 2.500 1.500 5.500 1.300 9l2.700-2c2-4.500 2.500-10 1-14.500C45 4.500 38 2 30 2Z" fill="#35261f"/><path d="M22 7c3-3.500 8-4.500 12-4 3.500.5 7 2 9 5-3-1.500-7-2-10-1.500S25.500 9 22 12Z" fill="#4a372c"/></g><g filter="url(#b2)"><ellipse cx="26" cy="26.800" rx="1.700" ry=".95" fill="#3a3d44"/><ellipse cx="39" cy="26.300" rx="1.700" ry=".95" fill="#3a3d44"/><path d="M29.800 34.500c1.300.9 4 .9 5.300 0" stroke="#9c6a4e" stroke-width="1.100" fill="none"/><path d="M26.800 38.600c3.500 1.100 8 1.100 11.500-.3-1 2.300-3.200 3.300-5.700 3.300s-4.800-1-5.800-3Z" fill="#c9857c"/></g><g fill="none" stroke="#23262e" stroke-width="1.700" stroke-linejoin="round"><path d="M20.300 24h10.200c.9 0 1.300.5 1.200 1.300l-.5 3.900c-.2 1.300-1 2-2.300 2H23c-1.300 0-2.100-.7-2.400-2l-.9-3.900c-.2-.8.100-1.300.6-1.300Z"/><path d="M44.500 23.600h-9c-.9 0-1.300.5-1.200 1.300l.5 3.900c.2 1.300 1 2 2.300 2h5.100c1.300 0 2.100-.7 2.400-2l.6-3.900c.1-.8-.2-1.300-.7-1.300Z"/><path d="M31.600 25.600c.9-.5 1.900-.5 2.800 0M20 24.700l-2.200-.5M45 24.300l1.700-.3"/></g><circle cx="32" cy="32" r="31.1" fill="none" stroke="#fff" stroke-opacity=".13" stroke-width="1.6"/></g></svg></div><div class="nm" style="letter-spacing:.57px">Tim Hoffmann</div><div class="cm">a1b2c3d</div><div class="br"><span>master</span></div><div class="dt r"><i></i></div><div class="st">Error</div><div class="du">1m 4s</div><div class="ago">12 hours ago</div></div>
    <div class="row" style="top:794px"><div class="av"><svg width="64" height="64" viewBox="0 0 64 64"><g clip-path="url(#cc)"><rect width="64" height="64" fill="url(#gI)"/><g filter="url(#b1)"><path d="M20 40h26v26H20Z" fill="#dcaa8a"/><path d="M-2 60 11 54l9-3.500C22 58 27 64.500 32.500 64.500S43.500 58 45.500 51l6.500 3.500 14 5.500v8H-2Z" fill="#1d212d"/></g><g filter="url(#b2)"><path d="M15 26c-1.500-.5-2.300 1-2 3.500s1.500 5.500 3 6 2-.5 2-2ZM47 26c1.500-.5 2.300 1 2 3.500s-1.500 5.500-3 6-2-.5-2-2Z" fill="#d69f80"/><path d="M16.500 22c0-9.500 6-15 15-15s15 5.500 15 15c0 6-.5 12-2.500 17.500-2 6-7 13.500-12.500 13.500S21 45.500 19 39.500C17 34 16.500 28 16.500 22Z" fill="url(#sk3)"/><path d="M18.500 34c1 4 2.500 5.500 4.500 6 2-2.500 5-3.500 8.500-3.500s6.500 1 8.500 3.500c2-.5 3.500-2 4.500-6 0 6-1 10-3.500 13.500S35 53.500 31.500 53.500 24 51 21.500 47.500 18.500 40 18.500 34Z" fill="#bd8c66" opacity=".7"/><path d="M31 0c-8-.5-16 4-18 12-1 4-1 9 1 13l2.500 1c0-5 1-9.500 4.500-12 4 1 9-1 12-4 3 3 7 5 10 6 1.500 3 2 6.500 2 10l2.500-1c2-5 2.500-11 .5-15C45 3 39 .5 31 0Z" fill="#c9a878"/><path d="M20 6c4-4 10-5 15-4 4 1 8 3 10 7-4-3-8-4-12-3.500S24 8 20 12Z" fill="#dcc092"/></g><g filter="url(#b2)"><ellipse cx="24.500" cy="27.300" rx="1.800" ry="1" fill="#3c4454"/><ellipse cx="39" cy="27.300" rx="1.800" ry="1" fill="#3c4454"/><path d="M28.500 35.500c1.500 1 4.500 1 6 0" stroke="#a8704f" stroke-width="1.200" fill="none"/><path d="M25 39.600c4 1 9.500 1 13.500 0-1 3.300-3.500 4.900-6.700 4.900s-5.800-1.600-6.800-4.900Z" fill="#d98d85"/><path d="M26.200 40c3.500.7 7.500.7 11 0-.8 1.400-2.800 2.100-5.500 2.100s-4.700-.7-5.500-2.100Z" fill="#f7eeea"/></g><g fill="none" stroke="#2a3143" stroke-width="1.700" stroke-linejoin="round"><path d="M18.200 24.500h10.600c.9 0 1.300.5 1.200 1.400l-.5 4.300c-.2 1.300-1 2-2.300 2h-6.400c-1.300 0-2.100-.7-2.400-2l-.9-4.300c-.2-.9.100-1.400.7-1.400Z"/><path d="M45.600 24.500H35c-.9 0-1.300.5-1.200 1.400l.5 4.300c.2 1.300 1 2 2.300 2H43c1.300 0 2.100-.7 2.400-2l.9-4.300c.2-.9-.1-1.400-.7-1.400Z"/><path d="M30 26.200c1.200-.6 2.600-.6 3.800 0M17.800 25.300l-3.300-.8M46 25.300l3.300-.8"/></g><circle cx="32" cy="32" r="31.1" fill="none" stroke="#fff" stroke-opacity=".13" stroke-width="1.6"/></g></svg></div><div class="nm" style="letter-spacing:.13px">Ingwar Johansson</div><div class="cm">f9e8d7c</div><div class="br"><span>master</span></div><div class="dt g"><i></i></div><div class="st">Completed</div><div class="du">2m 15s</div><div class="ago">2 days ago</div></div>
    <div class="row" style="top:924px"><div class="av"><svg width="64" height="64" viewBox="0 0 64 64"><g clip-path="url(#cc)"><rect width="64" height="64" fill="url(#gB)"/><g filter="url(#b1)"><path d="M25.500 33h14.500l.5 10-7.500 6-8-6Z" fill="#bf8767"/><path d="M-2 52c1-4 4-6 8-7.500l10-4.500 9-4c1 6 3.500 10 7.500 10.500 4-.5 6.500-4.500 7.500-10.500l9 4 10 4.500c4 1.500 7 3.500 7 7.500v14H-2Z" fill="#1f3a60"/><path d="M26 44c2.500 1.500 10.500 1.500 13 0l-2 22H28Z" fill="#143646"/></g><g filter="url(#b2)"><path d="M21.300 20c-1.300-.4-1.900.7-1.600 2.500s1.100 4 2.300 4.400 1.500-.4 1.500-1.600ZM43.200 20c1.300-.4 1.900.7 1.600 2.500s-1.100 4-2.300 4.400-1.500-.4-1.500-1.600Z" fill="#c48b6b"/><path d="M22.300 18.500c0-7 3.800-11.500 10-11.500s10 4.500 10 11.500c0 4-.3 8-2 11.500s-4.800 7.500-8 7.500-6.300-4-8-7.500-2-7.500-2-11.500Z" fill="url(#sk5)"/><path d="M22.800 24c.7 3 1.700 4.300 3.300 4.700 1.400-1.700 3.500-2.300 6.200-2.300s4.800.6 6.200 2.300c1.600-.4 2.600-1.700 3.300-4.700.3 5-.5 8-2.500 10.700s-4.500 3.300-7 3.300-5-.6-7-3.300-2.800-5.700-2.500-10.700Z" fill="#33241d" opacity=".92"/><path d="M31 1c-5.500-.3-10.500 2.500-12 7.500-.8 3.500-.4 8 1.200 12l2.300 1.500c-.4-4 0-7.700 2-10.300 3 .5 7 0 10-2 2 2 4.500 3.700 7 4.800.8 2 1.200 4.700 1 7.500l2.300-1.500c1.700-4 2.200-8.500 1-12C44 3.500 38 1.300 31 1Z" fill="#2b1f1b"/></g><g filter="url(#b2)"><ellipse cx="27.300" cy="21" rx="1.500" ry=".85" fill="#33302f"/><ellipse cx="37.800" cy="21" rx="1.500" ry=".85" fill="#33302f"/><path d="M27.300 28.800c3 .9 7 .9 10-.1-.8 2.600-2.700 3.700-5 3.700s-4.200-1.100-5-3.600Z" fill="#d78d88"/><path d="M28.300 29.100c2.500.6 5.500.6 8 0-.6 1.100-2 1.600-4 1.600s-3.400-.5-4-1.600Z" fill="#f6ece8"/><path d="M29 27.600c1.800-1.200 5-1.200 6.800 0" stroke="#2c1f1a" stroke-width="1.400" fill="none"/><path d="M22.500 49.500l2.500 1 1.800 3.300-1.200 2.400-2.800-.6-.8-3.600Z" fill="#e6ded2"/><path d="M40.500 48.800l2 .3 1.500 1.700-.8 1.200-2.500-.6Z" fill="#d8b84a"/><path d="M29.500 48c1 4 1.500 9 1.500 16M36 48c-1 4-1.800 9-2 16" stroke="#2c7f96" stroke-width="1.100" fill="none" stroke-dasharray="1.500 1.200"/><rect x="29" y="60" width="5" height="5" fill="#cfc6a8"/></g><g fill="none" stroke="#2b2f38" stroke-width="1.500" stroke-linejoin="round"><path d="M22.500 18.400h8.300c.8 0 1.100.4 1 1.100l-.4 3.100c-.2 1.100-.9 1.700-2 1.700h-4.600c-1.100 0-1.800-.6-2-1.700l-.8-3.100c-.2-.7.100-1.100.5-1.100Z"/><path d="M42.300 18.400h-8c-.8 0-1.100.4-1 1.100l.4 3.100c.2 1.100.9 1.700 2 1.700h4.300c1.100 0 1.800-.6 2-1.700l.8-3.100c.2-.7-.1-1.100-.5-1.100Z"/><path d="M31.800 19.800c.5-.4 1.100-.4 1.600 0M22.300 19l-2-.4M42.700 19l2-.4"/></g><circle cx="32" cy="32" r="31.1" fill="none" stroke="#fff" stroke-opacity=".13" stroke-width="1.6"/></g></svg></div><div class="nm" style="letter-spacing:0px">Bassim Salim</div><div class="cm">bc54321</div><div class="br"><span>master</span></div><div class="dt g"><i></i></div><div class="st">Completed</div><div class="du">1m 12s</div><div class="ago">5 days ago</div></div>
    <div class="row" style="top:1054px"><div class="av"><svg width="64" height="64" viewBox="0 0 64 64"><g clip-path="url(#cc)"><rect width="64" height="64" fill="url(#gE)"/><g filter="url(#b1)"><path d="M30 1.500c-9 .500-15.500 8-16.500 18-.500 6-1 10-2.500 14s-3 9-1.500 13.500l6 2.500 10-7 16 1 4 9 4-2.500c2-4 2.500-8 1.500-12s-1.500-8-2-13C48 11 41 1 30 1.500Z" fill="url(#hE)"/><path d="M26 40h15l3 12 2 14H24Z" fill="#dfb295"/></g><g filter="url(#b2)"><path d="M20.500 24c0-8.500 4.800-14 12-14S44.500 15.500 44.500 24c0 5.500-1.500 10-4 13.500-2.200 3-5.200 5.700-8 5.700s-5.800-2.700-8-6C22 33.500 20.500 29 20.500 24Z" fill="url(#sk2)"/><path d="M31 3c-7 0-13 6-14 15-.500 5-1 9-3 13 3-1 5-4 6-8 .800-5 3-10 8-12.500 4 2 9 2 12 5 2 3 2.500 7 3 11 1 4 3 7 6 8-2-5-2-9-2.500-14C45.500 9 39 3 31 3Z" fill="#c9ad7c"/><path d="M22 6c3-2.500 7-3.500 10-3 4 .500 8 3 10 7-4-2.500-8-3-11-2.500S25 9.500 22 12Z" fill="#dcc79e"/><path d="M14 32c-1.500 5-4 8-3.500 13 2.500-1 5.500-3.500 6.500-7s2.500-6 3.500-9.500C18 30 15.500 30 14 32ZM45.500 30c.500 5 2 8 2 12s-2.500 7-1.500 10c3-2 5.500-6 5.500-10s-3-8-6-12Z" fill="#9c7f52"/><path d="M17 36c-2 3-4 6-4 9.500 2-.500 4-2 5-4.500ZM44 38c1 3 1.500 6 .500 9 2-1 3-3.500 3-6Z" fill="#d6bf92"/><path d="M-2 58c3-4 7-6.500 12-8l7-3 7.500-5L36.500 66H-2Z" fill="#191c31"/><path d="M42.500 48l5.500 2.500 7 4 6 5.500v6H47Z" fill="#191c31"/><path d="M26.300 48.700 29.400 48.200 37.600 64.500 33.800 66Z" fill="#bcd5ec"/><path d="M39 49l2.600-.300L46.300 59.500 43.600 62Z" fill="#b4cde6"/><path d="M24.500 42 26.300 48.700 34 66H30L21 46Z" fill="#14172a"/></g><g filter="url(#b2)"><path d="M25 20.600c1.500-.900 3.500-1 5.200-.300M36 20.300c1.700-.700 3.700-.600 5.200.300" stroke="#8a6a48" stroke-width="1" fill="none"/><ellipse cx="27.800" cy="22.600" rx="1.800" ry=".95" fill="#454a55"/><ellipse cx="38.800" cy="22.400" rx="1.800" ry=".95" fill="#4d5a6d"/><path d="M32 28.800c.900.900 2.600.900 3.500 0" stroke="#b27d62" stroke-width="1" fill="none"/><path d="M28.600 31.500c3 1.100 7 1.100 10-.100-.800 3-2.800 4.400-5 4.400s-4.200-1.500-5-4.300Z" fill="#cf7f79"/><path d="M29.600 31.900c2.600.800 5.600.800 8-.100-.600 1.500-2.100 2.200-4 2.200s-3.300-.700-4-2.100Z" fill="#fbf4f0"/></g><circle cx="32" cy="32" r="31.1" fill="none" stroke="#fff" stroke-opacity=".13" stroke-width="1.6"/></g></svg></div><div class="nm" style="letter-spacing:-.24px">Erna Eifrig</div><div class="cm">2d3e4f5</div><div class="br"><span>master</span></div><div class="dt g"><i></i></div><div class="st">Completed</div><div class="du">1m 56s</div><div class="ago">1 week ago</div></div>
    <div class="row" style="top:1184px"><div class="av"><svg width="64" height="64" viewBox="0 0 64 64"><g clip-path="url(#cc)"><rect width="64" height="64" fill="url(#gI)"/><g filter="url(#b1)"><path d="M20 40h26v26H20Z" fill="#dcaa8a"/><path d="M-2 60 11 54l9-3.500C22 58 27 64.500 32.500 64.500S43.500 58 45.500 51l6.500 3.500 14 5.500v8H-2Z" fill="#1d212d"/></g><g filter="url(#b2)"><path d="M15 26c-1.500-.5-2.300 1-2 3.500s1.500 5.500 3 6 2-.5 2-2ZM47 26c1.500-.5 2.300 1 2 3.500s-1.500 5.500-3 6-2-.5-2-2Z" fill="#d69f80"/><path d="M16.500 22c0-9.500 6-15 15-15s15 5.500 15 15c0 6-.5 12-2.500 17.500-2 6-7 13.500-12.500 13.500S21 45.500 19 39.500C17 34 16.500 28 16.500 22Z" fill="url(#sk3)"/><path d="M18.500 34c1 4 2.500 5.500 4.500 6 2-2.500 5-3.500 8.500-3.500s6.500 1 8.500 3.500c2-.5 3.500-2 4.500-6 0 6-1 10-3.500 13.500S35 53.500 31.500 53.500 24 51 21.500 47.500 18.500 40 18.500 34Z" fill="#bd8c66" opacity=".7"/><path d="M31 0c-8-.5-16 4-18 12-1 4-1 9 1 13l2.500 1c0-5 1-9.500 4.500-12 4 1 9-1 12-4 3 3 7 5 10 6 1.500 3 2 6.500 2 10l2.500-1c2-5 2.500-11 .5-15C45 3 39 .5 31 0Z" fill="#c9a878"/><path d="M20 6c4-4 10-5 15-4 4 1 8 3 10 7-4-3-8-4-12-3.500S24 8 20 12Z" fill="#dcc092"/></g><g filter="url(#b2)"><ellipse cx="24.500" cy="27.300" rx="1.800" ry="1" fill="#3c4454"/><ellipse cx="39" cy="27.300" rx="1.800" ry="1" fill="#3c4454"/><path d="M28.500 35.500c1.500 1 4.500 1 6 0" stroke="#a8704f" stroke-width="1.200" fill="none"/><path d="M25 39.600c4 1 9.500 1 13.500 0-1 3.300-3.500 4.900-6.700 4.900s-5.800-1.600-6.800-4.900Z" fill="#d98d85"/><path d="M26.200 40c3.500.7 7.500.7 11 0-.8 1.400-2.800 2.100-5.500 2.100s-4.700-.7-5.500-2.100Z" fill="#f7eeea"/></g><g fill="none" stroke="#2a3143" stroke-width="1.700" stroke-linejoin="round"><path d="M18.200 24.500h10.600c.9 0 1.300.5 1.200 1.400l-.5 4.300c-.2 1.300-1 2-2.300 2h-6.400c-1.300 0-2.100-.7-2.400-2l-.9-4.300c-.2-.9.100-1.400.7-1.400Z"/><path d="M45.600 24.500H35c-.9 0-1.300.5-1.200 1.400l.5 4.300c.2 1.300 1 2 2.300 2H43c1.300 0 2.100-.7 2.400-2l.9-4.300c.2-.9-.1-1.400-.7-1.400Z"/><path d="M30 26.200c1.200-.6 2.600-.6 3.800 0M17.800 25.300l-3.300-.8M46 25.300l3.300-.8"/></g><circle cx="32" cy="32" r="31.1" fill="none" stroke="#fff" stroke-opacity=".13" stroke-width="1.6"/></g></svg></div><div class="nm" style="letter-spacing:.13px">Ingwar Johansson</div><div class="cm">9182736</div><div class="br"><span>master</span></div><div class="dt g"><i></i></div><div class="st">Completed</div><div class="du">3m 45s</div><div class="ago">1 week ago</div></div>
    <div class="row" style="top:1314px"><div class="av"><svg width="64" height="64" viewBox="0 0 64 64"><g clip-path="url(#cc)"><rect width="64" height="64" fill="url(#gI)"/><g filter="url(#b1)"><path d="M20 40h26v26H20Z" fill="#dcaa8a"/><path d="M-2 60 11 54l9-3.500C22 58 27 64.500 32.500 64.500S43.500 58 45.500 51l6.500 3.500 14 5.500v8H-2Z" fill="#1d212d"/></g><g filter="url(#b2)"><path d="M15 26c-1.500-.5-2.300 1-2 3.500s1.500 5.500 3 6 2-.5 2-2ZM47 26c1.500-.5 2.300 1 2 3.500s-1.500 5.500-3 6-2-.5-2-2Z" fill="#d69f80"/><path d="M16.500 22c0-9.500 6-15 15-15s15 5.500 15 15c0 6-.5 12-2.500 17.500-2 6-7 13.500-12.500 13.500S21 45.500 19 39.500C17 34 16.500 28 16.500 22Z" fill="url(#sk3)"/><path d="M18.500 34c1 4 2.500 5.500 4.500 6 2-2.500 5-3.500 8.500-3.500s6.500 1 8.500 3.500c2-.5 3.500-2 4.500-6 0 6-1 10-3.500 13.500S35 53.500 31.500 53.500 24 51 21.500 47.500 18.500 40 18.500 34Z" fill="#bd8c66" opacity=".7"/><path d="M31 0c-8-.5-16 4-18 12-1 4-1 9 1 13l2.500 1c0-5 1-9.500 4.500-12 4 1 9-1 12-4 3 3 7 5 10 6 1.500 3 2 6.500 2 10l2.500-1c2-5 2.500-11 .5-15C45 3 39 .5 31 0Z" fill="#c9a878"/><path d="M20 6c4-4 10-5 15-4 4 1 8 3 10 7-4-3-8-4-12-3.500S24 8 20 12Z" fill="#dcc092"/></g><g filter="url(#b2)"><ellipse cx="24.500" cy="27.300" rx="1.800" ry="1" fill="#3c4454"/><ellipse cx="39" cy="27.300" rx="1.800" ry="1" fill="#3c4454"/><path d="M28.500 35.500c1.500 1 4.500 1 6 0" stroke="#a8704f" stroke-width="1.200" fill="none"/><path d="M25 39.600c4 1 9.500 1 13.500 0-1 3.300-3.500 4.900-6.700 4.900s-5.800-1.600-6.800-4.900Z" fill="#d98d85"/><path d="M26.200 40c3.500.7 7.500.7 11 0-.8 1.400-2.800 2.100-5.500 2.100s-4.700-.7-5.500-2.100Z" fill="#f7eeea"/></g><g fill="none" stroke="#2a3143" stroke-width="1.700" stroke-linejoin="round"><path d="M18.200 24.500h10.600c.9 0 1.300.5 1.200 1.400l-.5 4.300c-.2 1.300-1 2-2.300 2h-6.400c-1.300 0-2.100-.7-2.400-2l-.9-4.300c-.2-.9.100-1.400.7-1.400Z"/><path d="M45.600 24.500H35c-.9 0-1.300.5-1.200 1.400l.5 4.300c.2 1.300 1 2 2.300 2H43c1.300 0 2.100-.7 2.400-2l.9-4.300c.2-.9-.1-1.400-.7-1.400Z"/><path d="M30 26.200c1.200-.6 2.600-.6 3.800 0M17.800 25.300l-3.300-.8M46 25.300l3.300-.8"/></g><circle cx="32" cy="32" r="31.1" fill="none" stroke="#fff" stroke-opacity=".13" stroke-width="1.6"/></g></svg></div><div class="nm" style="letter-spacing:.13px">Ingwar Johansson</div><div class="cm">0a1b2c3</div><div class="br"><span>master</span></div><div class="dt g"><i></i></div><div class="st">Completed</div><div class="du">37s</div><div class="ago">2 weeks ago</div></div>
    <div class="row last" style="top:1444px"><div class="av"><svg width="64" height="64" viewBox="0 0 64 64"><g clip-path="url(#cc)"><rect width="64" height="64" fill="url(#gB)"/><g filter="url(#b1)"><path d="M25.500 33h14.500l.5 10-7.500 6-8-6Z" fill="#bf8767"/><path d="M-2 52c1-4 4-6 8-7.500l10-4.500 9-4c1 6 3.500 10 7.500 10.500 4-.5 6.500-4.500 7.500-10.500l9 4 10 4.500c4 1.500 7 3.500 7 7.500v14H-2Z" fill="#1f3a60"/><path d="M26 44c2.500 1.500 10.500 1.500 13 0l-2 22H28Z" fill="#143646"/></g><g filter="url(#b2)"><path d="M21.300 20c-1.300-.4-1.900.7-1.600 2.500s1.100 4 2.300 4.400 1.500-.4 1.500-1.600ZM43.200 20c1.300-.4 1.900.7 1.600 2.500s-1.100 4-2.300 4.400-1.500-.4-1.500-1.600Z" fill="#c48b6b"/><path d="M22.300 18.500c0-7 3.800-11.500 10-11.500s10 4.500 10 11.500c0 4-.3 8-2 11.500s-4.800 7.500-8 7.500-6.300-4-8-7.500-2-7.500-2-11.500Z" fill="url(#sk5)"/><path d="M22.800 24c.7 3 1.700 4.300 3.300 4.700 1.400-1.700 3.500-2.300 6.200-2.300s4.800.6 6.200 2.300c1.600-.4 2.600-1.700 3.300-4.700.3 5-.5 8-2.500 10.700s-4.500 3.300-7 3.300-5-.6-7-3.300-2.800-5.700-2.500-10.700Z" fill="#33241d" opacity=".92"/><path d="M31 1c-5.500-.3-10.500 2.500-12 7.500-.8 3.500-.4 8 1.200 12l2.300 1.500c-.4-4 0-7.700 2-10.300 3 .5 7 0 10-2 2 2 4.500 3.700 7 4.800.8 2 1.200 4.700 1 7.500l2.300-1.500c1.700-4 2.200-8.500 1-12C44 3.500 38 1.300 31 1Z" fill="#2b1f1b"/></g><g filter="url(#b2)"><ellipse cx="27.300" cy="21" rx="1.500" ry=".85" fill="#33302f"/><ellipse cx="37.800" cy="21" rx="1.500" ry=".85" fill="#33302f"/><path d="M27.300 28.800c3 .9 7 .9 10-.1-.8 2.600-2.700 3.700-5 3.700s-4.200-1.100-5-3.600Z" fill="#d78d88"/><path d="M28.300 29.100c2.500.6 5.500.6 8 0-.6 1.100-2 1.600-4 1.600s-3.400-.5-4-1.600Z" fill="#f6ece8"/><path d="M29 27.600c1.800-1.200 5-1.200 6.800 0" stroke="#2c1f1a" stroke-width="1.400" fill="none"/><path d="M22.500 49.500l2.500 1 1.800 3.300-1.200 2.400-2.800-.6-.8-3.600Z" fill="#e6ded2"/><path d="M40.500 48.800l2 .3 1.500 1.700-.8 1.200-2.500-.6Z" fill="#d8b84a"/><path d="M29.500 48c1 4 1.500 9 1.500 16M36 48c-1 4-1.800 9-2 16" stroke="#2c7f96" stroke-width="1.100" fill="none" stroke-dasharray="1.500 1.200"/><rect x="29" y="60" width="5" height="5" fill="#cfc6a8"/></g><g fill="none" stroke="#2b2f38" stroke-width="1.500" stroke-linejoin="round"><path d="M22.500 18.400h8.300c.8 0 1.100.4 1 1.100l-.4 3.100c-.2 1.100-.9 1.700-2 1.700h-4.600c-1.100 0-1.800-.6-2-1.700l-.8-3.100c-.2-.7.100-1.100.5-1.100Z"/><path d="M42.300 18.400h-8c-.8 0-1.100.4-1 1.100l.4 3.100c.2 1.100.9 1.700 2 1.700h4.300c1.100 0 1.800-.6 2-1.700l.8-3.100c.2-.7-.1-1.100-.5-1.100Z"/><path d="M31.800 19.800c.5-.4 1.100-.4 1.600 0M22.300 19l-2-.4M42.700 19l2-.4"/></g><circle cx="32" cy="32" r="31.1" fill="none" stroke="#fff" stroke-opacity=".13" stroke-width="1.6"/></g></svg></div><div class="nm" style="letter-spacing:0px">Bassim Salim</div><div class="cm">ef45678</div><div class="br"><span>master</span></div><div class="dt g"><i></i></div><div class="st">Completed</div><div class="du">4m 19s</div><div class="ago">3 weeks ago</div></div>
  </div>
</div>
</body>
</html>
